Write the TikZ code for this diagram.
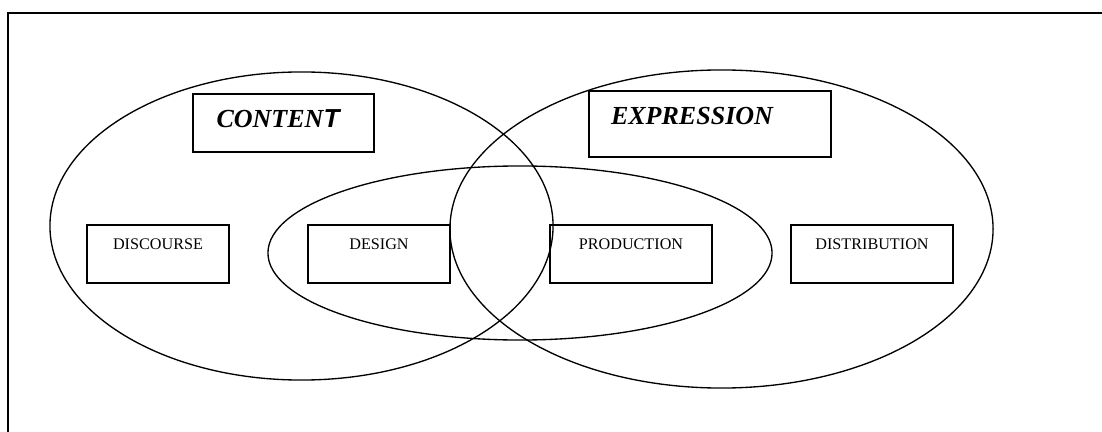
\documentclass[tikz,border=0pt]{standalone}
\usepackage{fontspec}
\setmainfont{Liberation Serif}
\newfontfamily\arialfont{Liberation Sans}
\usepackage{tikz}
\usetikzlibrary{shapes.geometric}

\begin{document}
\begin{tikzpicture}[
    x=0.025cm, y=-0.025cm,
    every node/.style={inner sep=0pt},
    venn/.style={draw, ellipse, line width=0.95pt},
    bigbox/.style={draw, rectangle, line width=0.95pt, minimum height=1.45cm},
    smallbox/.style={draw, rectangle, line width=0.95pt, minimum height=1.45cm},
    bigtext/.style={font=\fontsize{18.5}{20}\selectfont\bfseries\itshape},
    smalltext/.style={font=\fontsize{11.5}{13}\selectfont}
]
    \useasboundingbox (0,0) rectangle (1102,432);

    % 1. Outer frame
    \draw[line width=1.4pt] (8,432) -- (8,13) -- (1102,13);

    % 2. The three sets
    \node[venn, minimum width=12.575cm, minimum height=7.7cm] (contentset) at (301.5,226) {};
    \node[venn, minimum width=13.575cm, minimum height=7.95cm] (expressionset) at (721.5,229) {};
    \node[venn, minimum width=12.6cm, minimum height=4.35cm] (middleset) at (520,253) {};

    % 3. Title boxes
    \node[bigbox, minimum width=4.525cm] (content) at (283.5,123) {};
    \node[bigtext] (contentlabel) at (278,119) {CONTEN{\arialfont T}};
    \node[bigbox, minimum width=6.05cm, minimum height=1.65cm] (expression) at (710,124) {};
    \node[bigtext] (expressionlabel) at (692,116) {EXPRESSION};

    % 4. Stage boxes
    \node[smallbox, minimum width=3.55cm] (discourse) at (158,254) {};
    \node[smallbox, minimum width=3.55cm] (design) at (379,254) {};
    \node[smallbox, minimum width=4.05cm] (production) at (631,254) {};
    \node[smallbox, minimum width=4.05cm] (distribution) at (872,254) {};

    % labels sit near the top of each box
    \node[smalltext] (discourselabel) at ([yshift=-0.5cm]discourse.north) {DISCOURSE};
    \node[smalltext] (designlabel) at ([yshift=-0.5cm]design.north) {DESIGN};
    \node[smalltext] (productionlabel) at ([yshift=-0.5cm]production.north) {PRODUCTION};
    \node[smalltext] (distributionlabel) at ([yshift=-0.5cm]distribution.north) {DISTRIBUTION};

\end{tikzpicture}
\end{document}
